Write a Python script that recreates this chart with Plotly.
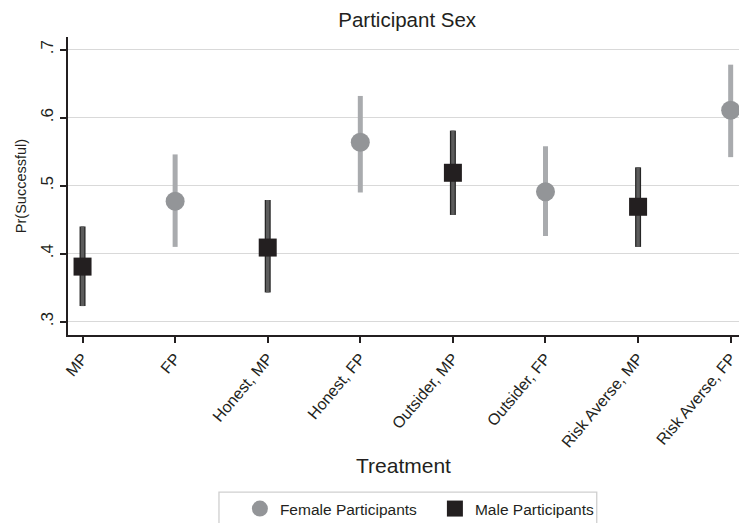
import plotly.graph_objects as go

categories = ["MP", "FP", "Honest, MP", "Honest, FP", "Outsider, MP",
              "Outsider, FP", "Risk Averse, MP", "Risk Averse, FP"]

male_cats = ["MP", "Honest, MP", "Outsider, MP", "Risk Averse, MP"]
male_est = [0.381, 0.409, 0.519, 0.469]
male_lo = [0.323, 0.343, 0.457, 0.410]
male_hi = [0.440, 0.479, 0.581, 0.527]

female_cats = ["FP", "Honest, FP", "Outsider, FP", "Risk Averse, FP"]
female_est = [0.477, 0.564, 0.491, 0.611]
female_lo = [0.410, 0.490, 0.426, 0.542]
female_hi = [0.546, 0.632, 0.558, 0.678]

y_tickvals = [0.3, 0.4, 0.5, 0.6, 0.7]
y_ticktext = [".3", ".4", ".5", ".6", ".7"]

FONT = "Liberation Sans, Arial, Helvetica, sans-serif"
INK = "#231f20"

def errs(est, lo, hi):
    return [h - e for e, h in zip(est, hi)], [e - l for e, l in zip(est, lo)]

m_plus, m_minus = errs(male_est, male_lo, male_hi)
f_plus, f_minus = errs(female_est, female_lo, female_hi)

fig = go.Figure()

# male bar outline (dark) then fill
fig.add_trace(go.Scatter(
    x=male_cats, y=male_est, mode="markers",
    marker=dict(size=1, color="rgba(0,0,0,0)"),
    error_y=dict(type="data", symmetric=False, array=m_plus, arrayminus=m_minus,
                 thickness=6, width=0, color="#262626"),
    showlegend=False, hoverinfo="skip"))
fig.add_trace(go.Scatter(
    x=male_cats, y=male_est, mode="markers",
    marker=dict(size=1, color="rgba(0,0,0,0)"),
    error_y=dict(type="data", symmetric=False, array=m_plus, arrayminus=m_minus,
                 thickness=3.5, width=0, color="#5c5c5c"),
    showlegend=False, hoverinfo="skip"))
fig.add_trace(go.Scatter(
    x=female_cats, y=female_est, mode="markers",
    marker=dict(size=1, color="rgba(0,0,0,0)"),
    error_y=dict(type="data", symmetric=False, array=f_plus, arrayminus=f_minus,
                 thickness=5, width=0, color="#a9abae"),
    showlegend=False, hoverinfo="skip"))

fig.add_trace(go.Scatter(
    x=female_cats, y=female_est, mode="markers", name="Female Participants",
    marker=dict(symbol="circle", size=19, color="#939598", line=dict(width=0))))
fig.add_trace(go.Scatter(
    x=male_cats, y=male_est, mode="markers", name="Male Participants",
    marker=dict(symbol="square", size=18, color=INK, line=dict(width=0))))

# legend frame (decoration)
fig.add_shape(type="rect", xref="paper", yref="paper",
              x0=0.225, x1=0.788, y0=-0.527, y1=-0.66,
              line=dict(color="#cfcfcf", width=1.3), fillcolor="rgba(0,0,0,0)",
              layer="above")

fig.update_layout(
    width=739, height=523,
    margin=dict(l=68, r=0, t=37, b=188),
    paper_bgcolor="white", plot_bgcolor="white",
    font=dict(family=FONT, color=INK),
    title=dict(text="Participant Sex", x=0.551, xanchor="center",
               y=0.962, yanchor="middle", font=dict(size=20.5, color=INK)),
    xaxis=dict(type="category", categoryorder="array", categoryarray=categories,
               range=[-0.157, 7.09], tickangle=-50,
               tickfont=dict(size=16, color=INK),
               ticks="outside", ticklen=6, tickwidth=1.5, tickcolor=INK,
               showline=True, linecolor=INK, linewidth=1.5,
               showgrid=False, zeroline=False,
               title=dict(text="Treatment", font=dict(size=21, color=INK),
                          standoff=9)),
    yaxis=dict(range=[0.2804, 0.7187], tickvals=y_tickvals, ticktext=y_ticktext,
               tickangle=-90, tickfont=dict(size=17, color=INK),
               ticks="outside", ticklen=6, tickwidth=1.5, tickcolor=INK,
               showline=True, linecolor=INK, linewidth=1.5,
               showgrid=True, gridcolor="#d9d9d9", gridwidth=1.3,
               zeroline=False,
               title=dict(text="Pr(Successful)", font=dict(size=14.5, color=INK),
                          standoff=8)),
    legend=dict(orientation="h", xref="container", yref="container",
                x=0.5885, xanchor="center", y=0.0593, yanchor="top",
                borderwidth=0, bgcolor="rgba(0,0,0,0)",
                font=dict(size=15.5, color=INK),
                entrywidth=150, entrywidthmode="pixels",
                itemsizing="trace", traceorder="normal"),
)

fig.write_html("out.html")
